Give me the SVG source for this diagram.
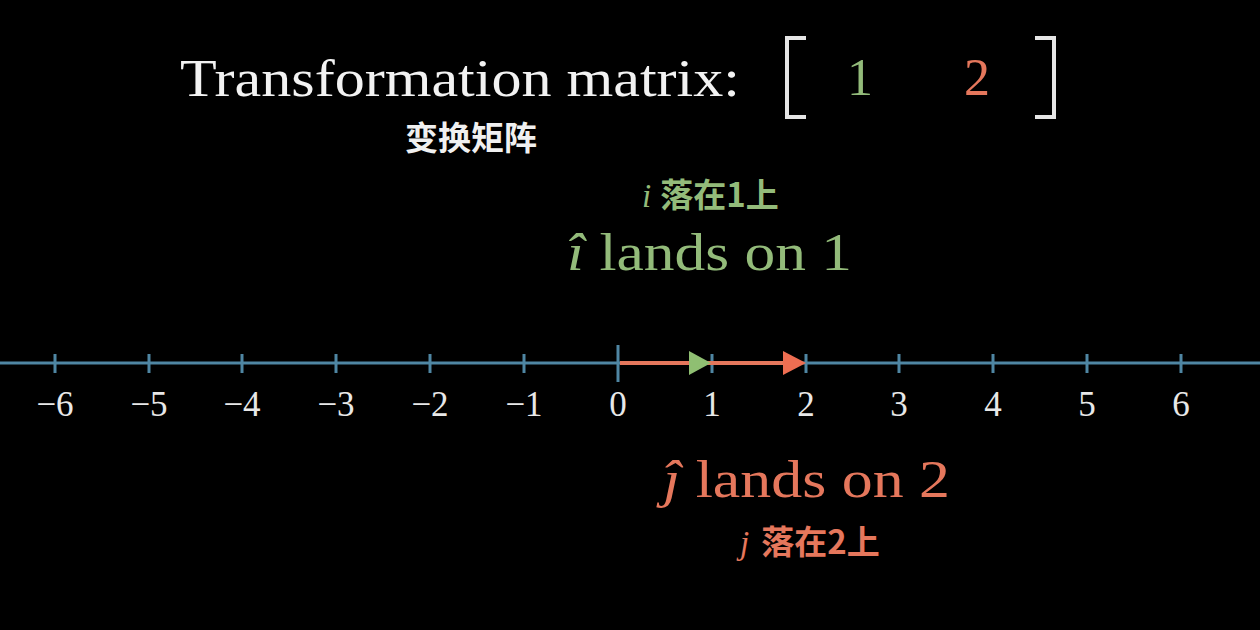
<svg xmlns="http://www.w3.org/2000/svg" width="1260" height="630" viewBox="0 0 1260 630">
<defs>
<style>
.serif{font-family:"Liberation Serif","DejaVu Serif",serif}
.cjk{font-family:"Noto Sans CJK SC","Noto Sans CJK JP",sans-serif;font-weight:bold}
.num{font-family:"Liberation Serif",serif;font-size:35px;fill:#e8e8e8;text-anchor:middle}
.tick{stroke:#4f86a3;stroke-width:3}
.green{fill:#93bb7a}
.red{fill:#e5775c}
</style>
</defs>
<rect width="1260" height="630" fill="#000"/>
<g id="title">
<text class="serif" x="180" y="96" font-size="52" fill="#f2f2f2" textLength="560" lengthAdjust="spacingAndGlyphs">Transformation matrix:</text>
<text class="cjk" x="471" y="150" font-size="33" fill="#f0f0f0" text-anchor="middle">变换矩阵</text>
</g>
<g id="matrix">
<path d="M806 38 H787 V117 H806 M1035 38 H1054 V117 H1035" fill="none" stroke="#e6e6e6" stroke-width="4"/>
<text class="serif green" x="860" y="95" font-size="52" text-anchor="middle">1</text>
<text class="serif red" x="977" y="95" font-size="52" text-anchor="middle">2</text>
</g>
<g id="ilabel">
<text class="green" x="642" y="207" font-size="33"><tspan class="serif" font-style="italic">i</tspan><tspan class="cjk" dx="9">落在1上</tspan></text>
<text class="serif green" x="567" y="270" font-size="52" textLength="285" lengthAdjust="spacingAndGlyphs"><tspan font-style="italic">î</tspan> lands on 1</text>
</g>
<g id="jlabel">
<text class="serif red" x="663" y="497" font-size="52" textLength="287" lengthAdjust="spacingAndGlyphs"><tspan font-style="italic">ĵ</tspan> lands on 2</text>
<text class="red" x="740" y="554" font-size="33"><tspan class="serif" font-style="italic">j</tspan><tspan class="cjk" dx="12">落在2上</tspan></text>
</g>
<g id="numberline">
<line x1="0" y1="363" x2="1260" y2="363" class="tick"/>
<g class="tick">
<line x1="55" y1="354" x2="55" y2="373"/>
<line x1="149" y1="354" x2="149" y2="373"/>
<line x1="242" y1="354" x2="242" y2="373"/>
<line x1="336" y1="354" x2="336" y2="373"/>
<line x1="430" y1="354" x2="430" y2="373"/>
<line x1="524" y1="354" x2="524" y2="373"/>
<line x1="618" y1="345" x2="618" y2="382"/>
<line x1="712" y1="354" x2="712" y2="373"/>
<line x1="806" y1="354" x2="806" y2="373"/>
<line x1="899" y1="354" x2="899" y2="373"/>
<line x1="993" y1="354" x2="993" y2="373"/>
<line x1="1087" y1="354" x2="1087" y2="373"/>
<line x1="1181" y1="354" x2="1181" y2="373"/>
</g>
<text class="num" x="55" y="416">−6</text>
<text class="num" x="149" y="416">−5</text>
<text class="num" x="242" y="416">−4</text>
<text class="num" x="336" y="416">−3</text>
<text class="num" x="430" y="416">−2</text>
<text class="num" x="524" y="416">−1</text>
<text class="num" x="618" y="416">0</text>
<text class="num" x="712" y="416">1</text>
<text class="num" x="806" y="416">2</text>
<text class="num" x="899" y="416">3</text>
<text class="num" x="993" y="416">4</text>
<text class="num" x="1087" y="416">5</text>
<text class="num" x="1181" y="416">6</text>
</g>
<g id="connectors">
<line x1="620" y1="363" x2="786" y2="363" stroke="#e5775c" stroke-width="4"/>
<polygon points="806,363 783,351 783,375" fill="#ee6e52"/>
<polygon points="711,363 689,351 689,375" fill="#8fbf72"/>
</g>
</svg>
